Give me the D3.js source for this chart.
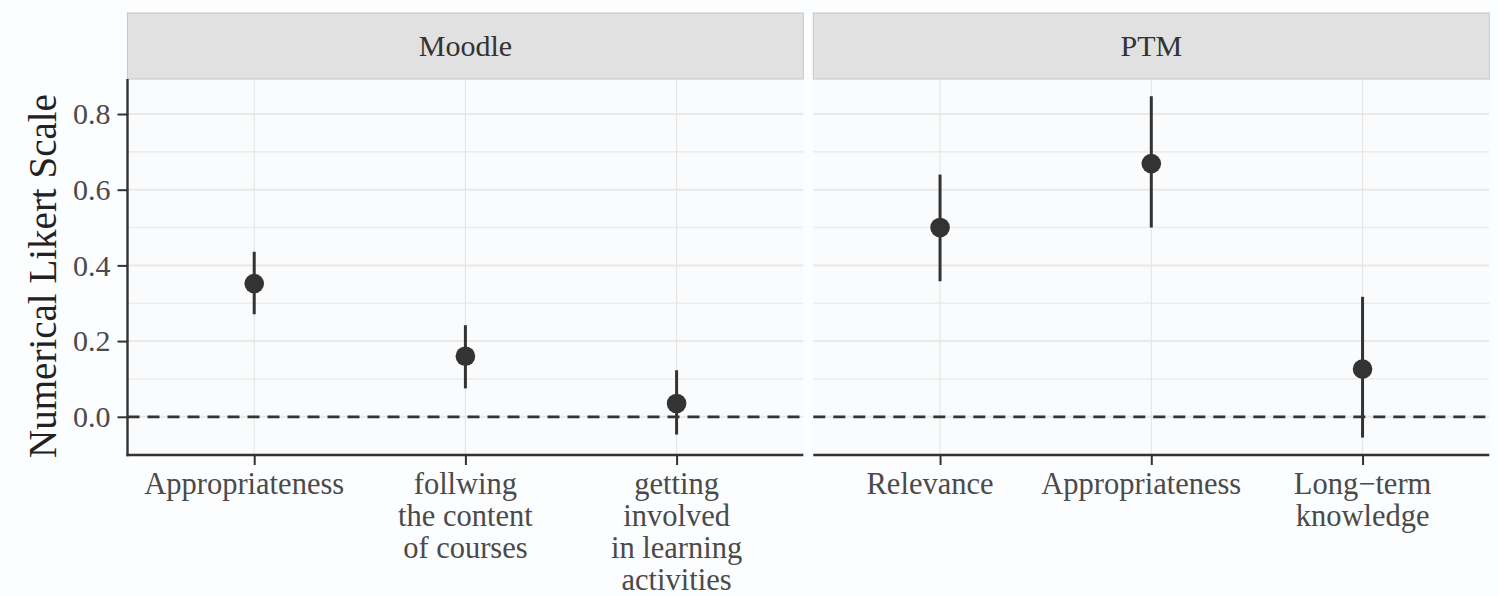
<!DOCTYPE html>
<html>
<head>
<meta charset="utf-8">
<script src="https://cdn.jsdelivr.net/npm/d3@7"></script>
<style>
  body { margin: 0; background: #fcfdfe; }
  svg { display: block; font-family: "Liberation Serif", "Times New Roman", serif; }
</style>
</head>
<body>
<div id="chart"></div>
<script>
// facet names
var panels = ["Moodle", "PTM"];

// Moodle panel
var moodleCats = ["Appropriateness", "follwing\nthe content\nof courses", "getting\ninvolved\nin learning\nactivities"];
var moodleMean = [0.352, 0.160, 0.035];
var moodleLow = [0.271, 0.075, -0.047];
var moodleHigh = [0.436, 0.242, 0.123];

// PTM panel
var ptmCats = ["Relevance", "Appropriateness", "Long\u2212term\nknowledge"];
var ptmMean = [0.500, 0.669, 0.126];
var ptmLow = [0.358, 0.500, -0.055];
var ptmHigh = [0.640, 0.847, 0.317];

var yTicks = [0.0, 0.2, 0.4, 0.6, 0.8];
var yMinor = [-0.1, 0.1, 0.3, 0.5, 0.7, 0.9];
var yTitle = "Numerical Likert Scale";

var width = 1499, height = 596;
var plotTop = 79, plotBottom = 455;
var stripTop = 13;
var panelX = [[127.5, 803.3], [813.3, 1489.3]];

var svg = d3.select("#chart")
    .append("svg")
    .attr("width", width)
    .attr("height", height)

svg.append("rect").attr("width", width).attr("height", height).attr("fill", "#fcfdfe")

var y = d3.scaleLinear()
    .domain([-0.101, 0.8925])
    .range([plotBottom, plotTop])

var facets = [
    { name: panels[0], cats: moodleCats, mean: moodleMean, low: moodleLow, high: moodleHigh },
    { name: panels[1], cats: ptmCats, mean: ptmMean, low: ptmLow, high: ptmHigh }
];

facets.forEach(function (f, i) {
    var x0 = panelX[i][0], x1 = panelX[i][1];
    var x = d3.scalePoint().domain(f.cats).range([x0, x1]).padding(0.6);
    var g = svg.append("g");

    // panel background
    g.append("rect")
        .attr("x", x0).attr("y", plotTop)
        .attr("width", x1 - x0).attr("height", plotBottom - plotTop)
        .attr("fill", "#fafbfd")

    // grid lines
    g.selectAll(".minor").data(yMinor.filter(function (v) { return y(v) > plotTop && y(v) < plotBottom; }))
        .enter().append("line")
        .attr("x1", x0).attr("x2", x1)
        .attr("y1", function (d) { return y(d); }).attr("y2", function (d) { return y(d); })
        .attr("stroke", "#ececec").attr("stroke-width", 1.6)
    g.selectAll(".major").data(yTicks)
        .enter().append("line")
        .attr("x1", x0).attr("x2", x1)
        .attr("y1", function (d) { return y(d); }).attr("y2", function (d) { return y(d); })
        .attr("stroke", "#e9e9e9").attr("stroke-width", 2)
    g.selectAll(".vgrid").data(f.cats)
        .enter().append("line")
        .attr("x1", function (d) { return x(d); }).attr("x2", function (d) { return x(d); })
        .attr("y1", plotTop).attr("y2", plotBottom)
        .attr("stroke", "#e6e6e6").attr("stroke-width", 1.2)

    // reference line at zero
    g.append("line")
        .attr("x1", x0).attr("x2", x1)
        .attr("y1", y(0)).attr("y2", y(0))
        .attr("stroke", "#333333").attr("stroke-width", 2.7)
        .attr("stroke-dasharray", "12,8")

    // strip
    g.append("rect")
        .attr("x", x0).attr("y", stripTop)
        .attr("width", x1 - x0).attr("height", plotTop - stripTop)
        .attr("fill", "#e1e1e1").attr("stroke", "#c6c6c6").attr("stroke-width", 1)
    g.append("text")
        .attr("x", (x0 + x1) / 2).attr("y", (stripTop + plotTop) / 2 + 10)
        .attr("text-anchor", "middle")
        .attr("font-size", 30)
        .attr("fill", "#333333")
        .text(f.name)

    // error bars and points
    f.cats.forEach(function (c, j) {
        g.append("line")
            .attr("x1", x(c)).attr("x2", x(c))
            .attr("y1", y(f.low[j])).attr("y2", y(f.high[j]))
            .attr("stroke", "#333333").attr("stroke-width", 3)
        g.append("circle")
            .attr("cx", x(c)).attr("cy", y(f.mean[j]))
            .attr("r", 9.8)
            .attr("fill", "#333333")
    });

    // x axis
    var xAxis = g.append("g")
        .attr("transform", "translate(0," + plotBottom + ")")
        .call(d3.axisBottom(x).tickSize(10).tickPadding(8).tickFormat(""))
    xAxis.select(".domain").remove();
    xAxis.selectAll(".tick line").attr("stroke", "#333333").attr("stroke-width", 2)
    g.append("line")
        .attr("x1", i == 0 ? x0 - 1 : x0).attr("x2", x1)
        .attr("y1", plotBottom).attr("y2", plotBottom)
        .attr("stroke", "#333333").attr("stroke-width", 2.4)

    f.cats.forEach(function (c) {
        var lines = c.split("\n");
        var t = g.append("text")
            .attr("text-anchor", "middle")
            .attr("font-size", 30.5)
            .attr("fill", "#4a4a4a")
        lines.forEach(function (line, k) {
            t.append("tspan")
                .attr("x", x(c) - (lines.length == 1 ? 10 : 0))
                .attr("y", 494 + k * 32)
                .text(line)
        });
    });

    // y axis only on first panel
    if (i == 0) {
        var yAxis = g.append("g")
            .attr("transform", "translate(" + x0 + ",0)")
            .call(d3.axisLeft(y).tickValues(yTicks).tickFormat(d3.format(".1f")).tickSize(10).tickPadding(7))
        yAxis.select(".domain").remove();
        yAxis.selectAll(".tick line").attr("stroke", "#333333").attr("stroke-width", 2)
        yAxis.selectAll(".tick text")
            .attr("font-size", 30)
            .attr("fill", "#4a4a4a")
            .attr("font-family", "Liberation Serif, serif")
        g.append("line")
            .attr("x1", x0).attr("x2", x0)
            .attr("y1", plotTop).attr("y2", plotBottom + 1.2)
            .attr("stroke", "#333333").attr("stroke-width", 2.4)
    }
});

// y title
svg.append("text")
    .attr("transform", "translate(56,276) rotate(-90)")
    .attr("text-anchor", "middle")
    .attr("font-size", 39)
    .attr("fill", "#222222")
    .text(yTitle)
</script>
</body>
</html>
